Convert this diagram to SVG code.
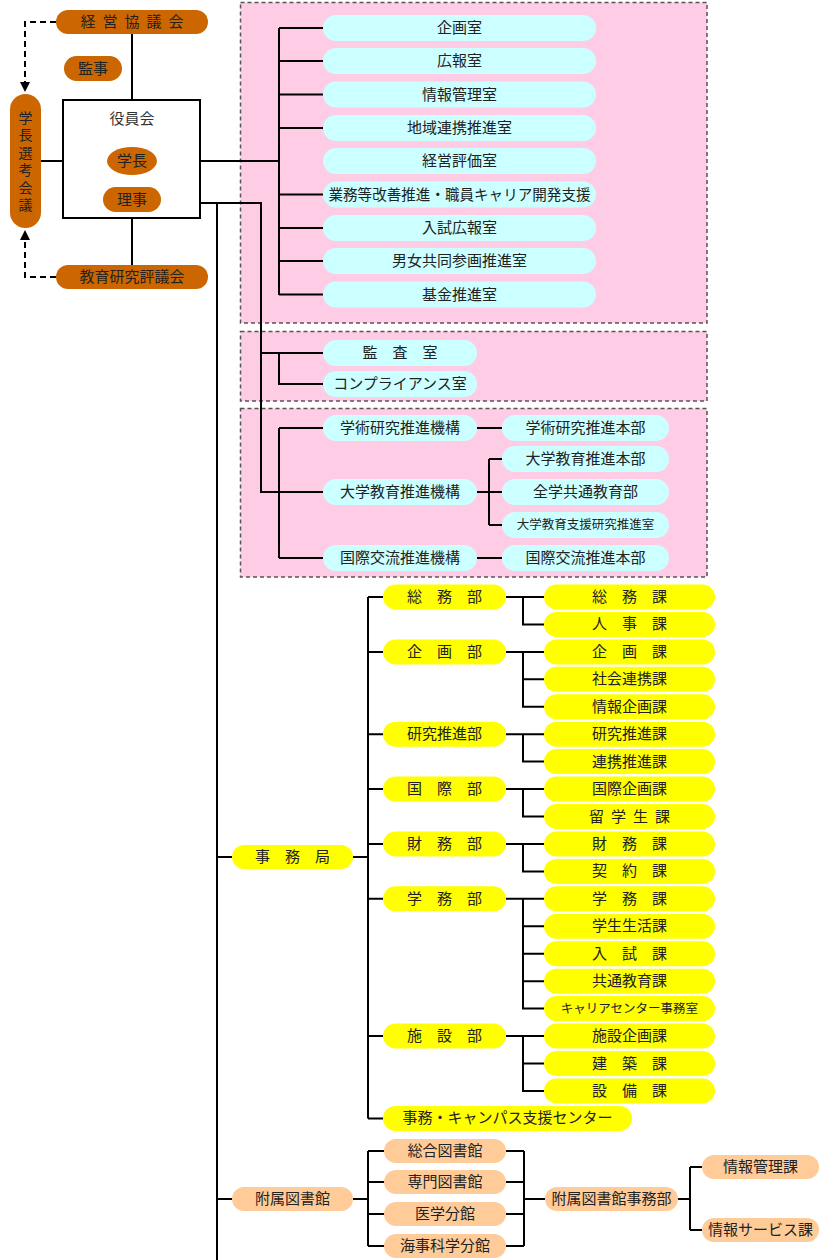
<svg xmlns="http://www.w3.org/2000/svg" width="820" height="1260" viewBox="0 0 820 1260">
<defs>
<style>
.ln{stroke:#000;stroke-width:2;fill:none}
.ds{stroke:#000;stroke-width:2;fill:none;stroke-dasharray:6 4}
.or{fill:#CC6600}
.cy{fill:#CCFFFF}
.ye{fill:#FFFF00}
.pe{fill:#FFCC99}
.pk{fill:#FFCCE5;stroke:#555;stroke-width:1.5;stroke-dasharray:4 3}
.bx{fill:#fff;stroke:#000;stroke-width:2}
text{font-family:"Noto Sans CJK JP","Noto Sans CJK SC",sans-serif;font-size:15px;fill:#222;text-anchor:middle;dominant-baseline:central;transform:translateY(-1.5px)}
.sm{font-size:12.5px}
.vt{font-size:14px}
</style>
<marker id="ah" viewBox="0 0 10 10" refX="9" refY="5" markerWidth="5" markerHeight="5" orient="auto"><path d="M0,0 L10,5 L0,10 z" fill="#000"/></marker>
</defs>
<rect width="820" height="1260" fill="#fff"/>

<g id="areas">
<rect class="pk" x="240.5" y="2.5" width="466.5" height="320.5"/>
<rect class="pk" x="240.5" y="331.5" width="466.5" height="69.5"/>
<rect class="pk" x="240.5" y="408.5" width="466.5" height="168.5"/>
</g>

<g id="connectors">
<path class="ds" d="M56,22 H25 V91" marker-end="url(#ah)"/>
<path class="ds" d="M56,277 H25 V231" marker-end="url(#ah)"/>
<path class="ln" d="M132,34 V100 M132,218 V266"/>
<path class="ln" d="M41,161 H279"/>
<path class="ln" d="M279,28 V295 M279,28 H323 M279,61 H323 M279,94.5 H323 M279,128 H323 M279,194.5 H323 M279,228 H323 M279,261 H323 M279,294.5 H323"/>
<path class="ln" d="M200,203 H261 V492 H323 M261,353 H323 M279,353 V384 H323"/>
<path class="ln" d="M279,428 V558 M279,428 H323 M279,558 H323 M477,428 H502 M477,558 H502 M477,492 H502 M489,459 V525 M489,459 H502 M489,525 H502"/>
<path class="ln" d="M217,203 V1260"/>
<path class="ln" d="M217,857 H232 M353,857 H368 M368,597 V1118.4"/>
<path class="ln" d="M368,597 H383 M368,651.9 H383 M368,734.2 H383 M368,789.1 H383 M368,844 H383 M368,898.8 H383 M368,1036 H383 M368,1118.4 H383"/>
<path class="ln" d="M506,597 H523 V624.4 H544 M523,597 H544"/>
<path class="ln" d="M506,651.9 H523 V706.8 H544 M523,651.9 H544 M523,679.3 H544"/>
<path class="ln" d="M506,734.2 H523 V761.6 H544 M523,734.2 H544"/>
<path class="ln" d="M506,789.1 H523 V816.5 H544 M523,789.1 H544"/>
<path class="ln" d="M506,844 H523 V871.4 H544 M523,844 H544"/>
<path class="ln" d="M506,898.8 H523 V1008.6 H544 M523,898.8 H544 M523,926.3 H544 M523,953.7 H544 M523,981.2 H544"/>
<path class="ln" d="M506,1036 H523 V1090.9 H544 M523,1036 H544 M523,1063.5 H544"/>
<path class="ln" d="M217,1199 H232 M353,1199 H368 M368,1151 V1246 M368,1151 H384 M368,1182 H384 M368,1214 H384 M368,1246 H384"/>
<path class="ln" d="M506,1151 H524 M506,1182 H524 M506,1214 H524 M506,1246 H524 M524,1151 V1246 M524,1199 H545"/>
<path class="ln" d="M678,1199 H690 M690,1167 V1230 M690,1167 H702 M690,1230 H702"/>
</g>

<g id="n-keiei"><rect class="or" x="56" y="10" width="152" height="24" rx="12"/><text x="135.5" y="22" style="letter-spacing:7px">経営協議会</text></g>
<g id="n-kanji"><rect class="or" x="64" y="56" width="58" height="25" rx="12.5"/><text x="93" y="68.5">監事</text></g>
<g id="n-yakuin"><rect class="bx" x="63" y="100" width="137" height="118"/><text x="132" y="119" style="fill:#333">役員会</text></g>
<g id="n-gakucho"><ellipse class="or" cx="132" cy="161" rx="25" ry="14"/><text x="132" y="161">学長</text></g>
<g id="n-riji"><rect class="or" x="103" y="187" width="58" height="25" rx="12.5"/><text x="132" y="199.5">理事</text></g>
<g id="n-senko"><rect class="or" x="10" y="94" width="31" height="134" rx="15.5"/>
<text class="vt" x="25.5" y="118">学</text><text class="vt" x="25.5" y="135.5">長</text><text class="vt" x="25.5" y="153">選</text><text class="vt" x="25.5" y="170.5">考</text><text class="vt" x="25.5" y="188">会</text><text class="vt" x="25.5" y="205.5">議</text></g>
<g id="n-kyoiku"><rect class="or" x="56" y="265" width="152" height="24" rx="12"/><text x="132" y="277">教育研究評議会</text></g>

<g id="n-kikaku-shitsu"><rect class="cy" x="323" y="15" width="273" height="26" rx="13"/><text x="459.5" y="28">企画室</text></g>
<g id="n-koho"><rect class="cy" x="323" y="48" width="273" height="26" rx="13"/><text x="459.5" y="61">広報室</text></g>
<g id="n-johokanri"><rect class="cy" x="323" y="81.5" width="273" height="26" rx="13"/><text x="459.5" y="94.5">情報管理室</text></g>
<g id="n-chiiki"><rect class="cy" x="323" y="115" width="273" height="26" rx="13"/><text x="459.5" y="128">地域連携推進室</text></g>
<g id="n-keieihyoka"><rect class="cy" x="323" y="148" width="273" height="26" rx="13"/><text x="459.5" y="161">経営評価室</text></g>
<g id="n-gyomu"><rect class="cy" x="323" y="181.5" width="273" height="26" rx="13"/><text x="459.5" y="194.5" textLength="262" lengthAdjust="spacingAndGlyphs">業務等改善推進・職員キャリア開発支援</text></g>
<g id="n-nyushikoho"><rect class="cy" x="323" y="215" width="273" height="26" rx="13"/><text x="459.5" y="228">入試広報室</text></g>
<g id="n-danjo"><rect class="cy" x="323" y="248" width="273" height="26" rx="13"/><text x="459.5" y="261">男女共同参画推進室</text></g>
<g id="n-kikin"><rect class="cy" x="323" y="281.5" width="273" height="26" rx="13"/><text x="459.5" y="294.5">基金推進室</text></g>

<g id="n-kansa"><rect class="cy" x="323" y="340" width="154" height="26" rx="13"/><text x="400" y="353">監　査　室</text></g>
<g id="n-compliance"><rect class="cy" x="323" y="371" width="154" height="26" rx="13"/><text x="400" y="384">コンプライアンス室</text></g>

<g id="n-gakujutsu-kiko"><rect class="cy" x="323" y="415" width="154" height="26" rx="13"/><text x="400" y="428">学術研究推進機構</text></g>
<g id="n-daigaku-kiko"><rect class="cy" x="323" y="479" width="154" height="26" rx="13"/><text x="400" y="492">大学教育推進機構</text></g>
<g id="n-kokusai-kiko"><rect class="cy" x="323" y="545" width="154" height="26" rx="13"/><text x="400" y="558">国際交流推進機構</text></g>
<g id="n-gakujutsu-honbu"><rect class="cy" x="502" y="415" width="167" height="26" rx="13"/><text x="585.5" y="428">学術研究推進本部</text></g>
<g id="n-daigaku-honbu"><rect class="cy" x="502" y="446" width="167" height="26" rx="13"/><text x="585.5" y="459">大学教育推進本部</text></g>
<g id="n-zengaku"><rect class="cy" x="502" y="479" width="167" height="26" rx="13"/><text x="585.5" y="492">全学共通教育部</text></g>
<g id="n-shien"><rect class="cy" x="502" y="512" width="167" height="26" rx="13"/><text class="sm" x="585.5" y="525">大学教育支援研究推進室</text></g>
<g id="n-kokusai-honbu"><rect class="cy" x="502" y="545" width="167" height="26" rx="13"/><text x="585.5" y="558">国際交流推進本部</text></g>

<g id="n-jimukyoku"><rect class="ye" x="232" y="845" width="121" height="24" rx="12"/><text x="292.5" y="857">事　務　局</text></g>

<g id="n-somubu"><rect class="ye" x="383" y="584.5" width="123" height="25" rx="12.5"/><text x="444.5" y="597">総　務　部</text></g>
<g id="n-kikakubu"><rect class="ye" x="383" y="639.4" width="123" height="25" rx="12.5"/><text x="444.5" y="651.9">企　画　部</text></g>
<g id="n-kenkyubu"><rect class="ye" x="383" y="721.7" width="123" height="25" rx="12.5"/><text x="444.5" y="734.2">研究推進部</text></g>
<g id="n-kokusaibu"><rect class="ye" x="383" y="776.6" width="123" height="25" rx="12.5"/><text x="444.5" y="789.1">国　際　部</text></g>
<g id="n-zaimubu"><rect class="ye" x="383" y="831.5" width="123" height="25" rx="12.5"/><text x="444.5" y="844">財　務　部</text></g>
<g id="n-gakumubu"><rect class="ye" x="383" y="886.3" width="123" height="25" rx="12.5"/><text x="444.5" y="898.8">学　務　部</text></g>
<g id="n-shisetsubu"><rect class="ye" x="383" y="1023.5" width="123" height="25" rx="12.5"/><text x="444.5" y="1036">施　設　部</text></g>
<g id="n-campus"><rect class="ye" x="383" y="1105.9" width="249" height="25" rx="12.5"/><text x="507.5" y="1118.4">事務・キャンパス支援センター</text></g>

<g id="n-somuka"><rect class="ye" x="544" y="584.5" width="171" height="25" rx="12.5"/><text x="629.5" y="597">総　務　課</text></g>
<g id="n-jinjika"><rect class="ye" x="544" y="611.9" width="171" height="25" rx="12.5"/><text x="629.5" y="624.4">人　事　課</text></g>
<g id="n-kikakuka"><rect class="ye" x="544" y="639.4" width="171" height="25" rx="12.5"/><text x="629.5" y="651.9">企　画　課</text></g>
<g id="n-shakaika"><rect class="ye" x="544" y="666.8" width="171" height="25" rx="12.5"/><text x="629.5" y="679.3">社会連携課</text></g>
<g id="n-johokikakuka"><rect class="ye" x="544" y="694.3" width="171" height="25" rx="12.5"/><text x="629.5" y="706.8">情報企画課</text></g>
<g id="n-kenkyuka"><rect class="ye" x="544" y="721.7" width="171" height="25" rx="12.5"/><text x="629.5" y="734.2">研究推進課</text></g>
<g id="n-renkeika"><rect class="ye" x="544" y="749.1" width="171" height="25" rx="12.5"/><text x="629.5" y="761.6">連携推進課</text></g>
<g id="n-kokusaika"><rect class="ye" x="544" y="776.6" width="171" height="25" rx="12.5"/><text x="629.5" y="789.1">国際企画課</text></g>
<g id="n-ryugakuka"><rect class="ye" x="544" y="804" width="171" height="25" rx="12.5"/><text x="633" y="816.5" style="letter-spacing:7px">留学生課</text></g>
<g id="n-zaimuka"><rect class="ye" x="544" y="831.5" width="171" height="25" rx="12.5"/><text x="629.5" y="844">財　務　課</text></g>
<g id="n-keiyakuka"><rect class="ye" x="544" y="858.9" width="171" height="25" rx="12.5"/><text x="629.5" y="871.4">契　約　課</text></g>
<g id="n-gakumuka"><rect class="ye" x="544" y="886.3" width="171" height="25" rx="12.5"/><text x="629.5" y="898.8">学　務　課</text></g>
<g id="n-seikatsuka"><rect class="ye" x="544" y="913.8" width="171" height="25" rx="12.5"/><text x="629.5" y="926.3">学生生活課</text></g>
<g id="n-nyushika"><rect class="ye" x="544" y="941.2" width="171" height="25" rx="12.5"/><text x="629.5" y="953.7">入　試　課</text></g>
<g id="n-kyotsuka"><rect class="ye" x="544" y="968.7" width="171" height="25" rx="12.5"/><text x="629.5" y="981.2">共通教育課</text></g>
<g id="n-career"><rect class="ye" x="544" y="996.1" width="171" height="25" rx="12.5"/><text class="sm" x="629.5" y="1008.6">キャリアセンター事務室</text></g>
<g id="n-shisetsuka"><rect class="ye" x="544" y="1023.5" width="171" height="25" rx="12.5"/><text x="629.5" y="1036">施設企画課</text></g>
<g id="n-kenchikuka"><rect class="ye" x="544" y="1051" width="171" height="25" rx="12.5"/><text x="629.5" y="1063.5">建　築　課</text></g>
<g id="n-setsubika"><rect class="ye" x="544" y="1078.4" width="171" height="25" rx="12.5"/><text x="629.5" y="1090.9">設　備　課</text></g>

<g id="n-fuzoku"><rect class="pe" x="232" y="1187" width="121" height="24" rx="12"/><text x="292.5" y="1199">附属図書館</text></g>
<g id="n-sogo"><rect class="pe" x="384" y="1139" width="122" height="24" rx="12"/><text x="445" y="1151">総合図書館</text></g>
<g id="n-senmon"><rect class="pe" x="384" y="1170" width="122" height="24" rx="12"/><text x="445" y="1182">専門図書館</text></g>
<g id="n-igaku"><rect class="pe" x="384" y="1202" width="122" height="24" rx="12"/><text x="445" y="1214">医学分館</text></g>
<g id="n-kaiji"><rect class="pe" x="384" y="1234" width="122" height="24" rx="12"/><text x="445" y="1246">海事科学分館</text></g>
<g id="n-tosho-jimu"><rect class="pe" x="545" y="1187" width="133" height="24" rx="12"/><text x="611.5" y="1199">附属図書館事務部</text></g>
<g id="n-johokanrika"><rect class="pe" x="702" y="1155" width="117" height="24" rx="12"/><text x="760.5" y="1167">情報管理課</text></g>
<g id="n-johoservice"><rect class="pe" x="702" y="1218" width="117" height="24" rx="12"/><text x="760.5" y="1230">情報サービス課</text></g>
</svg>
